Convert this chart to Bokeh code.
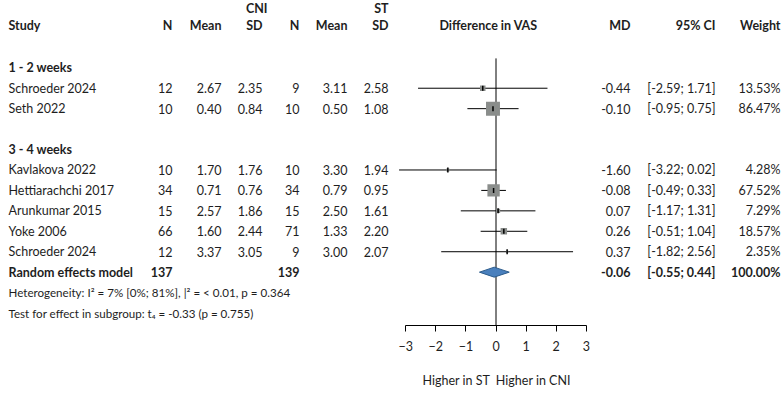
from bokeh.plotting import figure
from bokeh.models import Range1d, LinearAxis, FixedTicker, Title, ColumnDataSource
from bokeh.core.properties import value
from bokeh.embed import file_html
from bokeh.resources import INLINE
import math

# ---------------- data ----------------
studies = ["Schroeder 2024", "Seth 2022", "Kavlakova 2022", "Hettiarachchi 2017",
           "Arunkumar 2015", "Yoke 2006", "Schroeder 2024"]
subgroups = ["1 - 2 weeks", "3 - 4 weeks"]
cni_n = [12, 10, 10, 34, 15, 66, 12]
cni_mean = [2.67, 0.40, 1.70, 0.71, 2.57, 1.60, 3.37]
cni_sd = [2.35, 0.84, 1.76, 0.76, 1.86, 2.44, 3.05]
st_n = [9, 10, 10, 34, 15, 71, 9]
st_mean = [3.11, 0.50, 3.30, 0.79, 2.50, 1.33, 3.00]
st_sd = [2.58, 1.08, 1.94, 0.95, 1.61, 2.20, 2.07]
md = [-0.44, -0.10, -1.60, -0.08, 0.07, 0.26, 0.37]
ci_lo = [-2.59, -0.95, -3.22, -0.49, -1.17, -0.51, -1.82]
ci_hi = [1.71, 0.75, 0.02, 0.33, 1.31, 1.04, 2.56]
weight = [13.53, 86.47, 4.28, 67.52, 7.29, 18.57, 2.35]
pooled_label = "Random effects model"
pooled_n_cni = 137
pooled_n_st = 139
pooled_md = -0.06
pooled_lo = -0.55
pooled_hi = 0.44
pooled_weight = 100.00
heterogeneity = "Heterogeneity: I\u00b2 = 7% [0%; 81%], |\u00b2 = < 0.01, p = 0.364"
subgroup_test = "Test for effect in subgroup: t\u2084 = -0.33 (p = 0.755)"
x_ticks = [-3, -2, -1, 0, 1, 2, 3]
direction_label = "Higher in ST \u00a0Higher in CNI"

# ---------------- layout ----------------
W, H = 782, 404
X0_PX = 495.5      # pixel of x = 0
UNIT_PX = 30.1     # pixels per unit
ROW0_PX = 88.0     # pixel of first row
ROW_PX = 20.5      # pixels per row
FRAME_BOTTOM = 326

def cx(px):
    return (px - X0_PX) / UNIT_PX

study_rows = [0, 1, 4, 5, 6, 7, 8]
group_rows = [-1, 3]
pooled_row = 9
het_row = 10
test_row = 11
header_row = -3.05
super_row = -3.92

FONT = value("Lato")
FS = "12.5px"
TXT = "#1e1e1e"

p = figure(width=W, height=H, output_backend="svg", toolbar_location=None,
           x_range=Range1d(cx(0), cx(W)),
           y_range=Range1d((FRAME_BOTTOM - ROW0_PX) / ROW_PX, -ROW0_PX / ROW_PX),
           x_axis_type=None, y_axis_type=None,
           min_border_left=0, min_border_right=0, min_border_top=0,
           min_border_bottom=H - FRAME_BOTTOM)
p.outline_line_color = None
p.xgrid.visible = False
p.ygrid.visible = False
p.background_fill_color = "white"
p.border_fill_color = "white"

def put(xs, ys, texts, align="right", bold=False, size=FS):
    src = ColumnDataSource(dict(x=xs, y=ys, t=texts))
    p.text(x="x", y="y", text="t", source=src, text_font=FONT, text_font_size=size,
           text_align=align, text_baseline="middle", text_color=TXT,
           text_font_style="bold" if bold else "normal")

# headers
put([cx(267), cx(388)], [super_row, super_row], ["CNI", "ST"], bold=True)
put([cx(8)], [header_row], ["Study"], align="left", bold=True)
hdr_x = [cx(172), cx(221), cx(262), cx(299), cx(347), cx(388), cx(630), cx(715), cx(780)]
hdr_t = ["N", "Mean", "SD", "N", "Mean", "SD", "MD", "95% CI", "Weight"]
put(hdr_x, [header_row] * len(hdr_x), hdr_t, bold=True)
put([cx(488)], [header_row], ["Difference in VAS"], align="center", bold=True)

# subgroup headings
put([cx(8)] * 2, group_rows, subgroups, align="left", bold=True)

# study rows
n = len(studies)
put([cx(8)] * n, study_rows, studies, align="left")
put([cx(172)] * n, study_rows, [str(v) for v in cni_n])
put([cx(221)] * n, study_rows, ["%.2f" % v for v in cni_mean])
put([cx(262)] * n, study_rows, ["%.2f" % v for v in cni_sd])
put([cx(299)] * n, study_rows, [str(v) for v in st_n])
put([cx(347)] * n, study_rows, ["%.2f" % v for v in st_mean])
put([cx(388)] * n, study_rows, ["%.2f" % v for v in st_sd])
put([cx(630)] * n, study_rows, ["%.2f" % v for v in md])
put([cx(715)] * n, study_rows, ["[%.2f; %.2f]" % (a, b) for a, b in zip(ci_lo, ci_hi)])
put([cx(780)] * n, study_rows, ["%.2f%%" % v for v in weight])

# pooled row
put([cx(8)], [pooled_row], [pooled_label], align="left", bold=True)
put([cx(172), cx(299)], [pooled_row] * 2, [str(pooled_n_cni), str(pooled_n_st)], bold=True)
put([cx(630), cx(715), cx(780)], [pooled_row] * 3,
    ["%.2f" % pooled_md, "[%.2f; %.2f]" % (pooled_lo, pooled_hi), "%.2f%%" % pooled_weight],
    bold=True)

# footnotes
put([cx(8)], [het_row], [heterogeneity], align="left", size="11.6px")
put([cx(8)], [test_row], [subgroup_test], align="left", size="11.6px")

# zero line
p.segment(x0=[0], y0=[-1.46], x1=[0], y1=[12.5], line_color="black", line_width=1)

# CIs
p.segment(x0=ci_lo, y0=study_rows, x1=ci_hi, y1=study_rows, line_color="black", line_width=1)
# squares (area ~ weight)
p.scatter(x=md, y=study_rows, marker="square", size=[1.5 * math.sqrt(w) for w in weight],
          fill_color="#8a8d8b", line_color=None)
p.scatter(x=md, y=study_rows, marker="dash", angle=math.pi / 2, size=5,
          line_color="black", line_width=1.5)

# diamond
hh = 5.0 / ROW_PX
p.patch(x=[pooled_lo, pooled_md, pooled_hi, pooled_md],
        y=[pooled_row, pooled_row - hh, pooled_row, pooled_row + hh],
        fill_color="#4a80bd", line_color="#2d5c8c", line_width=1)

# x axis
ax = LinearAxis(ticker=FixedTicker(ticks=x_ticks), bounds=(x_ticks[0], x_ticks[-1]))
ax.axis_line_color = "black"
ax.axis_line_width = 1
ax.major_tick_line_color = "black"
ax.major_tick_in = 0
ax.major_tick_out = 6
ax.minor_tick_line_color = None
ax.major_label_standoff = 9
ax.major_label_text_font = "Lato"
ax.major_label_text_font_size = "12.5px"
ax.major_label_text_color = TXT
p.add_layout(ax, "below")

# direction labels beneath the axis
t = Title(text=direction_label, align="left", offset=422, standoff=34,
          text_font="Lato", text_font_size="12.5px", text_font_style="normal",
          text_color=TXT)
p.add_layout(t, "below")

open("out.html", "w").write(file_html(p, INLINE))
